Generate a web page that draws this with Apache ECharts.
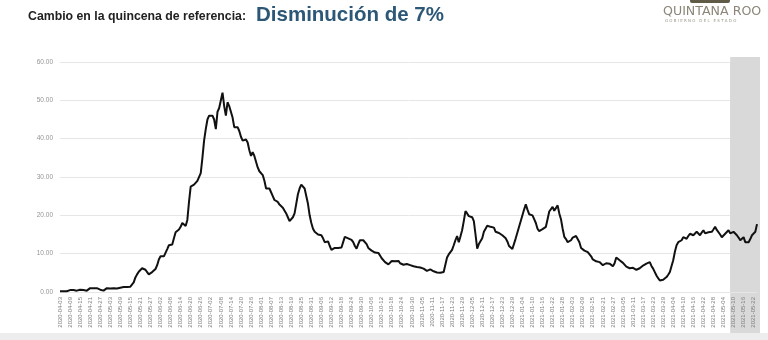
<!DOCTYPE html>
<html><head><meta charset="utf-8">
<script src="https://cdn.jsdelivr.net/npm/echarts@6/dist/echarts.min.js"></script>
<style>html,body{margin:0;padding:0;background:#fff}#c{width:768px;height:340px}</style>
</head><body><div id="c"></div>
<script>
const titleLead = 'Cambio en la quincena de referencia:';
const titleMain = 'Disminución de 7%';
const logoMain = 'QUINTANA ROO';
const logoSub = 'G O B I E R N O   D E L   E S T A D O';
const startYear = 2020, startMonth = 4, startDay = 3;
const shadeStart = '2021-05-08';
const yMin = 0, yMax = 60, yStep = 10;
const values = [
0.2,0.3,0.2,0.3,0.2,0.4,0.5,0.6,0.5,0.4,
0.35,0.5,0.6,0.6,0.5,0.4,0.35,0.7,1.0,1.0,
1.0,0.9,1.0,0.9,0.6,0.4,0.35,0.6,1.0,1.0,
0.9,1.0,1.0,1.0,0.9,0.8,1.1,1.3,1.3,1.2,
1.3,1.4,1.4,1.6,2.5,3.8,4.6,5.3,5.8,6.2,
6.3,5.8,5.2,4.6,4.6,5.2,5.6,6.0,7.0,8.5,
9.3,9.4,9.3,9.8,11.2,12.2,12.3,12.4,14.0,15.6,
16.0,16.3,17.0,18.0,17.5,17.2,18.8,23.5,27.5,27.8,
28,28.5,29,29.5,31,35,39.5,42.5,45,46,
45.5,46,45,42.5,47,48,48.5,52,48.5,46,
49.5,48.5,47,45.5,43,42.5,43,42,40.5,39.5,
39.5,39.8,39,37,35.5,36.5,35.5,34,32.5,31.5,
31,30.5,29,27,26.5,27,26.5,25,24,24.5,
23.5,22.8,22.5,22,21.5,20.5,19.5,18.5,18,19.5,
20.5,23,25.5,27,28,28.3,27,26.5,23,20,
18,16.5,15.7,15.2,15,14.8,14.8,14,13,13.4,
13.2,12,11,10.8,11.5,11.6,11.5,11.4,11.6,13,
14.4,14.2,14,14.1,13.6,13,12,11.3,12.5,13.5,
13.8,13.5,13.4,12.5,11.5,11.1,10.8,10.5,10.3,10.4,
10.2,9.5,8.8,8.3,7.8,7.5,7.2,7.6,8.1,8.3,
8.0,8.2,8.1,7.5,7.0,7.1,7.5,7.3,7.4,7.0,
6.9,6.7,6.8,6.5,6.3,6.4,6.2,6.1,5.8,5.5,
5.7,5.9,5.8,5.4,5.0,5.1,4.9,5.0,5.0,5.2,
5.7,9.0,9.8,10.3,11,12.2,13.5,14.6,13,14.5,
16.1,18.5,21.1,20.5,19.8,19.8,19.5,18.5,15,11.3,
12.5,12.8,14,15.7,16.5,17.3,17.6,17,17.2,16.8,
15.7,15.2,15.4,15,14.8,14.5,14,13.2,12,11.5,
11.2,11.1,14,15.5,17,18.5,20,21.5,22.9,21.5,
20.3,20.2,20,19,18,16.5,15.9,16.2,16.4,16.8,
17,19,21,21.5,22.2,21.2,21.5,22.6,20.5,19,
16.5,14.4,13.8,13,12.8,13.5,14.2,14.4,14.6,14.8,
13,11.5,11,10.8,10.5,10.4,10,9.3,8.5,8.2,
8,7.8,7.8,7.4,7.0,7.1,7.5,7.8,7.4,7.0,
6.7,7.5,9.0,8.6,8.3,8.0,7.6,7.2,6.6,6.1,
6.2,6.3,6.3,6.0,5.8,5.7,6.2,6.7,6.9,7.0,
7.4,7.8,7.8,6.8,6.1,5.2,4.3,3.6,3.0,2.9,
3.2,3.5,3.9,4.5,5.2,6.8,8.3,10.5,12.2,13.0,
13.3,13.5,14.3,14.1,13.9,14.6,15.2,14.9,14.8,15.3,
15.7,15.3,14.8,15.5,16.1,15.3,14.8,15.6,16.1,15.7,
16.3,17.0,16.2,15.7,15.0,14.3,14.8,15.2,15.6,16.1,
15.3,14.8,15.7,15.2,14.8,14.2,13.5,14.0,14.3,13.0,
12.9,13.0,13.8,14.8,15.3,15.7,17.7
];
const categories = values.map((_, i) =>
  new Date(Date.UTC(startYear, startMonth - 1, startDay + i)).toISOString().slice(0, 10));
const lastCategory = categories[categories.length - 1];

const chart = echarts.init(document.getElementById('c'), null, {renderer: 'canvas'});
chart.setOption({
  animation: false,
  backgroundColor: '#ffffff',
  grid: {left: 60, right: 11, top: 62, bottom: 48, containLabel: false},
  xAxis: {
    type: 'category', data: categories, boundaryGap: false,
    axisLine: {show: false}, axisTick: {show: false},
    axisLabel: {interval: 5, rotate: 90, fontSize: 6, color: '#7d7d7d', margin: 5, fontFamily: 'Liberation Sans'},
    splitLine: {show: false}
  },
  yAxis: {
    type: 'value', min: yMin, max: yMax, interval: yStep,
    axisLine: {show: false}, axisTick: {show: false},
    axisLabel: {formatter: v => v.toFixed(2), fontSize: 6.5, color: '#959595', margin: 7, fontFamily: 'Liberation Sans'},
    splitLine: {lineStyle: {color: '#e6e6e6', width: 1}}
  },
  series: [{
    type: 'line', data: values, showSymbol: false, smooth: false,
    lineStyle: {color: '#111111', width: 2}, z: 5,
    markArea: {silent: true, itemStyle: {color: '#d9d9d9', opacity: 1},
      data: [[{xAxis: shadeStart}, {xAxis: lastCategory}]]}
  }]
});

const xs = chart.convertToPixel({xAxisIndex: 0}, shadeStart);
const xe = chart.convertToPixel({xAxisIndex: 0}, lastCategory) + 3;
const yTop = chart.convertToPixel({yAxisIndex: 0}, yMax) - 5;
chart.setOption({
  graphic: [
    {type: 'rect', z: -10, shape: {x: xs, y: yTop, width: xe - xs, height: 333 - yTop}, style: {fill: '#d9d9d9'}},
    {type: 'rect', z: -10, shape: {x: 0, y: 333, width: 768, height: 7}, style: {fill: '#ededed'}},
    {type: 'text', left: 28, top: 11, style: {text: titleLead, font: 'bold 12.3px "Liberation Sans"', fill: '#222222'}},
    {type: 'text', left: 256, top: 5, style: {text: titleMain, font: 'bold 20.5px "Liberation Sans"', fill: '#2c5777'}},
    {type: 'rect', shape: {x: 690, y: -3, width: 40, height: 6, r: 2}, style: {fill: '#5f5b47'}},
    {type: 'text', left: 663, top: 5, style: {text: logoMain, font: '12.6px "DejaVu Sans"', fill: '#8b8678'}},
    {type: 'text', left: 665, top: 19, style: {text: logoSub, font: '4px "DejaVu Sans"', fill: '#9a9588'}}
  ]
});
</script></body></html>
